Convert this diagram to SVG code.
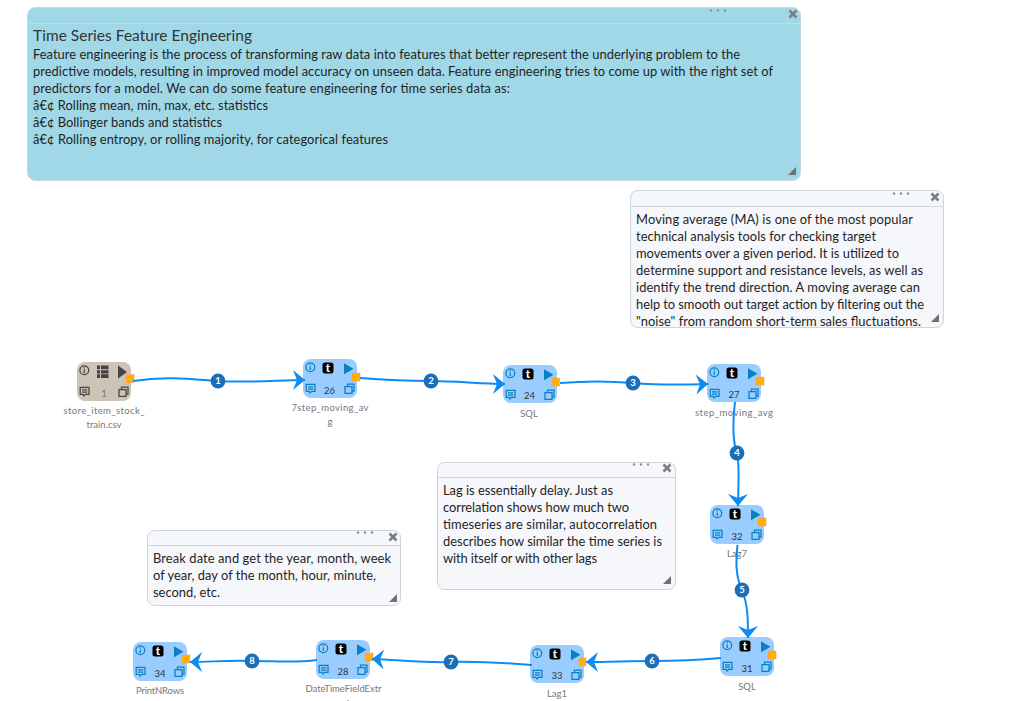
<svg xmlns="http://www.w3.org/2000/svg" width="1031" height="701" viewBox="0 0 1031 701">
<style>
text{font-family:"Lato","Noto Sans","Liberation Sans",sans-serif}
.note-blue{fill:#a1d8e8;stroke:#c4d6df;stroke-width:1}
.note{fill:#f6f7fa;stroke:#cbd5de;stroke-width:1}
.hdr{stroke:#cbd8e2;stroke-width:1;fill:none}
.nt{font-size:12.9px;fill:#1f1f1f}
.ttl{font-size:15.5px;fill:#333}
.dot{fill:#8a8f94}
.x{stroke:#7c7f82;stroke-width:2.6;fill:none}
.grip{fill:#6f7275}
.body-b{fill:#99ccff}
.body-t{fill:#cdc4b6}
.port{fill:#ffb000;stroke:#ff9d7a;stroke-width:.6}
.ib{stroke:#0b7fc4;fill:none;stroke-width:1.25}
.ibf{fill:#0b7fc4}
.id{stroke:#444;fill:none;stroke-width:1.25}
.idf{fill:#444}
.num{font-size:9.500px;fill:#333;text-anchor:middle}
.lbl{font-size:9.500px;fill:#777;text-anchor:middle}
.tbox{fill:#000}
.tch{font-size:11.500px;font-weight:900;fill:#fff;text-anchor:middle}
.con{fill:none;stroke:#0d8bf5;stroke-width:2;marker-end:url(#ah)}
.badge{fill:#1a6fb8}
.bt{font-size:9.500px;font-weight:700;fill:#fff;text-anchor:middle}
.in{fill:#2e9e3f}
</style>
<defs>
<marker id="ah" markerUnits="userSpaceOnUse" viewBox="-13 -11 14 22" refX="0" refY="0" markerWidth="14" markerHeight="22" orient="auto">
<path d="M0 0L-12 -10L-8 0L-12 10Z" fill="#0d8bf5"/>
</marker>
<g id="icons-b">
<circle class="ib" cx="7.300" cy="8.300" r="4.400"/>
<path class="ib" d="M7.300 7.500V11M7.300 5.300V6.400"/>
<path class="ibf" d="M41 4.300L50.500 9.800L41 15.300Z"/>
<path class="ib" d="M3.200 25.300H12V32.300H8.500L7 34L6 32.300H3.200ZM5 27.800H10.200M5 30H10.200"/>
<path class="ib" d="M42 27.500H49V34.300H42ZM44.500 27.500V25H51V32H49"/>
</g>
<g id="icons-d">
<circle class="id" cx="7.300" cy="8.300" r="4.400"/>
<path class="id" d="M7.300 7.500V11M7.300 5.300V6.400"/>
<path class="idf" d="M41 3.500L50 10L41 16.500Z"/>
<path class="id" d="M3.200 25.300H12V32.300H8.500L7 34L6 32.300H3.200ZM5 27.800H10.200M5 30H10.200"/>
<path class="id" d="M42 27.500H49V34.300H42ZM44.500 27.500V25H51V32H49"/>
<path class="idf" d="M20 3.500H31.500V7.200H20ZM20 8.200H31.500V11.400H20ZM20 12.300H31.500V16H20Z"/>
<path d="M23.500 3.500V16" stroke="#cdc4b6" stroke-width="1"/>
</g>
<path id="xm" class="x" d="M-3.500 -3.500L3.500 3.500M3.500 -3.500L-3.500 3.500"/>
<path id="gr" class="grip" d="M-4 4L4 -4V4Z"/>
</defs>

<g id="note-title">
<rect class="note-blue" x="27.500" y="7.500" width="773" height="173" rx="8"/>
<path class="hdr" d="M28 23.500H800"/>
<circle class="dot" cx="711" cy="10.500" r="1.200"/><circle class="dot" cx="718" cy="10.500" r="1.200"/><circle class="dot" cx="725" cy="10.500" r="1.200"/>
<use href="#xm" x="793" y="14"/><use href="#gr" x="792" y="171"/>
<text class="ttl" x="33" y="41" textLength="219" lengthAdjust="spacing">Time Series Feature Engineering</text>
<text class="nt" x="33" y="58.500" textLength="707" lengthAdjust="spacing">Feature engineering is the process of transforming raw data into features that better represent the underlying problem to the</text>
<text class="nt" x="33" y="75.500" textLength="740" lengthAdjust="spacing">predictive models, resulting in improved model accuracy on unseen data. Feature engineering tries to come up with the right set of</text>
<text class="nt" x="33" y="92.500" textLength="477" lengthAdjust="spacing">predictors for a model. We can do some feature engineering for time series data as:</text>
<text class="nt" x="33" y="109.500" textLength="235" lengthAdjust="spacing">â€¢ Rolling mean, min, max, etc. statistics</text>
<text class="nt" x="33" y="126.500" textLength="189" lengthAdjust="spacing">â€¢ Bollinger bands and statistics</text>
<text class="nt" x="33" y="143.500" textLength="355" lengthAdjust="spacing">â€¢ Rolling entropy, or rolling majority, for categorical features</text>
</g>

<g id="note-ma">
<rect class="note" x="630.500" y="190.500" width="313" height="137" rx="7"/>
<path class="hdr" d="M631 206.500H943"/>
<circle class="dot" cx="894" cy="193.500" r="1.200"/><circle class="dot" cx="901" cy="193.500" r="1.200"/><circle class="dot" cx="908" cy="193.500" r="1.200"/>
<use href="#xm" x="935" y="197"/><use href="#gr" x="935" y="318"/>
<text class="nt" x="636" y="223.500" textLength="277" lengthAdjust="spacing">Moving average (MA) is one of the most popular</text>
<text class="nt" x="636" y="240.500" textLength="240" lengthAdjust="spacing">technical analysis tools for checking target</text>
<text class="nt" x="636" y="257.500" textLength="263" lengthAdjust="spacing">movements over a given period. It is utilized to</text>
<text class="nt" x="636" y="274.500" textLength="287" lengthAdjust="spacing">determine support and resistance levels, as well as</text>
<text class="nt" x="636" y="291.500" textLength="284" lengthAdjust="spacing">identify the trend direction. A moving average can</text>
<text class="nt" x="636" y="308.500" textLength="288" lengthAdjust="spacing">help to smooth out target action by filtering out the</text>
<text class="nt" x="636" y="325.500" textLength="285" lengthAdjust="spacing">"noise" from random short-term sales fluctuations.</text>
</g>

<g id="note-lag">
<rect class="note" x="437.500" y="462.500" width="238" height="127" rx="7"/>
<path class="hdr" d="M438 477.500H675"/>
<circle class="dot" cx="634" cy="464.500" r="1.200"/><circle class="dot" cx="641" cy="464.500" r="1.200"/><circle class="dot" cx="648" cy="464.500" r="1.200"/>
<use href="#xm" x="667" y="468"/><use href="#gr" x="667" y="580"/>
<text class="nt" x="443" y="495" textLength="170" lengthAdjust="spacing">Lag is essentially delay. Just as</text>
<text class="nt" x="443" y="512" textLength="186" lengthAdjust="spacing">correlation shows how much two</text>
<text class="nt" x="443" y="529" textLength="214" lengthAdjust="spacing">timeseries are similar, autocorrelation</text>
<text class="nt" x="443" y="546" textLength="219" lengthAdjust="spacing">describes how similar the time series is</text>
<text class="nt" x="443" y="563" textLength="154" lengthAdjust="spacing">with itself or with other lags</text>
</g>

<g id="note-date">
<rect class="note" x="147.500" y="530.500" width="253" height="75" rx="7"/>
<path class="hdr" d="M148 545.500H400"/>
<circle class="dot" cx="358" cy="532.500" r="1.200"/><circle class="dot" cx="365" cy="532.500" r="1.200"/><circle class="dot" cx="372" cy="532.500" r="1.200"/>
<use href="#xm" x="393" y="537"/><use href="#gr" x="393" y="598"/>
<text class="nt" x="153" y="563" textLength="238" lengthAdjust="spacing">Break date and get the year, month, week</text>
<text class="nt" x="153" y="580" textLength="223" lengthAdjust="spacing">of year, day of the month, hour, minute,</text>
<text class="nt" x="153" y="597" textLength="67" lengthAdjust="spacing">second, etc.</text>
</g>

<g id="node-1" transform="translate(77,362)">
<rect class="body-t" width="54" height="39" rx="8"/>
<use href="#icons-d"/>
<text class="num" x="27" y="35" style="fill:#777">1</text>
<rect class="port" x="49" y="12.500" width="8" height="8"/>
<text class="lbl" x="27" y="52" textLength="81" lengthAdjust="spacing">store_item_stock_</text>
<text class="lbl" x="27" y="66">train.csv</text>
</g>
<g id="node-26" transform="translate(303,359)">
<rect class="body-b" width="54" height="39" rx="8"/>
<use href="#icons-b"/>
<rect class="tbox" x="19.500" y="3.500" width="11" height="11" rx="2.500"/><text class="tch" x="25" y="13">t</text>
<text class="num" x="26.500" y="35">26</text>
<rect class="port" x="49" y="14" width="8" height="8"/>
<text class="lbl" x="27" y="52" textLength="77" lengthAdjust="spacing">7step_moving_av</text>
<text class="lbl" x="27" y="66">g</text>
</g>
<g id="node-24" transform="translate(503,365)">
<rect class="body-b" width="54" height="38" rx="8"/>
<use href="#icons-b"/>
<rect class="tbox" x="19.500" y="3.500" width="11" height="11" rx="2.500"/><text class="tch" x="25" y="13">t</text>
<text class="num" x="26.500" y="33.500">24</text>
<rect class="port" x="49" y="13" width="7.500" height="8"/>
<text class="lbl" x="26" y="52">SQL</text>
</g>
<g id="node-27" transform="translate(707,364)">
<rect class="body-b" width="54" height="38" rx="8"/>
<use href="#icons-b"/>
<rect class="tbox" x="19.500" y="3.500" width="11" height="11" rx="2.500"/><text class="tch" x="25" y="13">t</text>
<text class="num" x="27" y="33.500">27</text>
<rect class="port" x="49" y="13" width="8" height="8"/>
<text class="lbl" x="27" y="52" textLength="78" lengthAdjust="spacing">step_moving_avg</text>
</g>
<g id="node-32" transform="translate(710,505)">
<rect class="body-b" width="54" height="39" rx="8"/>
<use href="#icons-b"/>
<rect class="tbox" x="19.500" y="3.500" width="11" height="11" rx="2.500"/><text class="tch" x="25" y="13">t</text>
<text class="num" x="27" y="35">32</text>
<rect class="port" x="48" y="13" width="8" height="8"/>
<text class="lbl" x="27" y="52">Lag7</text>
</g>
<g id="node-31" transform="translate(720,637)">
<rect class="body-b" width="54" height="39" rx="8"/>
<use href="#icons-b"/>
<rect class="tbox" x="19.500" y="3.500" width="11" height="11" rx="2.500"/><text class="tch" x="25" y="13">t</text>
<text class="num" x="27" y="35">31</text>
<rect class="port" x="48" y="14" width="8" height="8"/>
<text class="lbl" x="27" y="53">SQL</text>
</g>
<g id="node-33" transform="translate(530,645)">
<rect class="body-b" width="54" height="38" rx="8"/>
<use href="#icons-b"/>
<rect class="tbox" x="19.500" y="3.500" width="11" height="11" rx="2.500"/><text class="tch" x="25" y="13">t</text>
<text class="num" x="27" y="33.500">33</text>
<rect class="port" x="49" y="13" width="7" height="8"/>
<text class="lbl" x="27" y="52">Lag1</text>
</g>
<g id="node-28" transform="translate(316,640)">
<rect class="body-b" width="54" height="39" rx="8"/>
<use href="#icons-b"/>
<rect class="tbox" x="19.500" y="3.500" width="11" height="11" rx="2.500"/><text class="tch" x="25" y="13">t</text>
<text class="num" x="27" y="34.500">28</text>
<rect class="port" x="49" y="13" width="8" height="8"/>
<text class="lbl" x="27.500" y="52" textLength="76" lengthAdjust="spacing">DateTimeFieldExtr</text>
<rect x="31.500" y="60" width="1" height="1" fill="#777"/>
</g>
<g id="node-34" transform="translate(133,642)">
<rect class="body-b" width="54" height="39" rx="8"/>
<use href="#icons-b"/>
<rect class="tbox" x="19.500" y="3.500" width="11" height="11" rx="2.500"/><text class="tch" x="25" y="13">t</text>
<text class="num" x="27" y="34.500">34</text>
<rect class="port" x="49" y="13" width="8" height="8"/>
<text class="lbl" x="27" y="52" textLength="48" lengthAdjust="spacing">PrintNRows</text>
</g>

<g id="connectors">
<rect class="in" x="303" y="379.500" width="2" height="1"/>
<rect class="in" x="503" y="383.500" width="2" height="1"/>
<rect class="in" x="707" y="383.500" width="2" height="1"/>
<path class="con" d="M133 381C165 376 190 379 218 381S280 380 305 380"/>
<path class="con" d="M360 378C385 380 405 381 431 381S480 384 505 384"/>
<path class="con" d="M560 383C585 381 610 381 633 383S680 385 708 384"/>
<path class="con" d="M735 402C733 420 732 440 737 453C740 465 738 490 738 506"/>
<path class="con" d="M737.500 545C736 560 735 575 742 590C748 605 748 620 748 638"/>
<path class="con" d="M721 658C700 660 675 661 652 661C630 661 610 662 586 662"/>
<path class="con" d="M532 665C505 663 480 661 451 662C425 663 400 660 372 659"/>
<path class="con" d="M317 660C295 663 275 661 252 661C230 660 210 662 190 662"/>
<g id="badge-1"><circle class="badge" cx="218" cy="381" r="7.400"/><text class="bt" x="218" y="384.300">1</text></g>
<g id="badge-2"><circle class="badge" cx="431" cy="381" r="7.400"/><text class="bt" x="431" y="384.300">2</text></g>
<g id="badge-3"><circle class="badge" cx="633" cy="383" r="7.400"/><text class="bt" x="633" y="386.300">3</text></g>
<g id="badge-4"><circle class="badge" cx="737" cy="453" r="7.400"/><text class="bt" x="737" y="456.300">4</text></g>
<g id="badge-5"><circle class="badge" cx="742" cy="590" r="7.400"/><text class="bt" x="742" y="593.300">5</text></g>
<g id="badge-6"><circle class="badge" cx="652" cy="661" r="7.400"/><text class="bt" x="652" y="664.300">6</text></g>
<g id="badge-7"><circle class="badge" cx="451" cy="662" r="7.400"/><text class="bt" x="451" y="665.300">7</text></g>
<g id="badge-8"><circle class="badge" cx="252" cy="661" r="7.400"/><text class="bt" x="252" y="664.300">8</text></g>
</g>
</svg>
